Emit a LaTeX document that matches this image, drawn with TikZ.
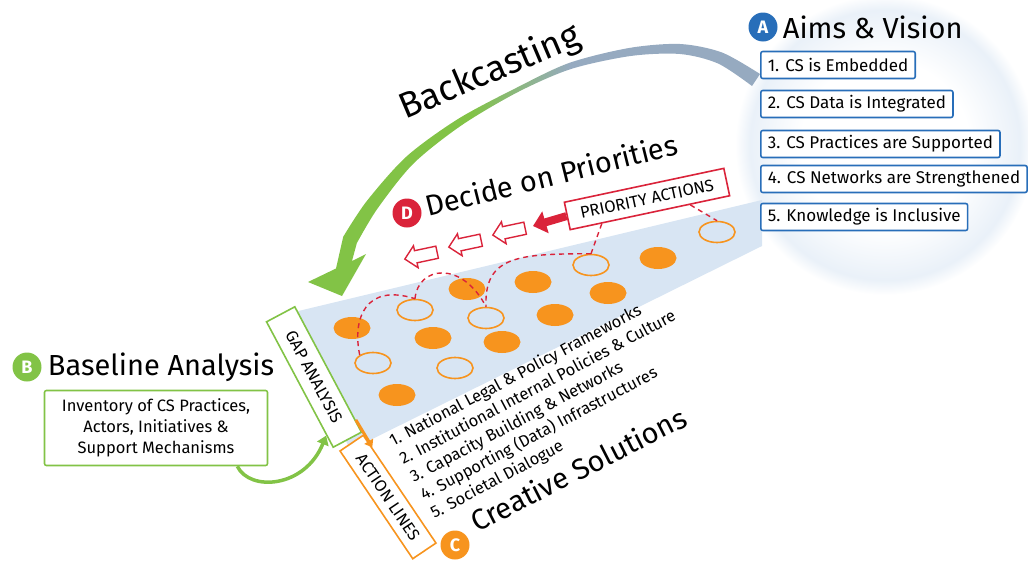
\documentclass[tikz,border=0pt]{standalone}
\usepackage{fontspec}
\setmainfont{Fira Sans}
\usetikzlibrary{positioning, arrows.meta, shapes.geometric, shapes.arrows, calc}

\definecolor{aimblue}{RGB}{40,110,185}
\definecolor{basegreen}{RGB}{130,195,70}
\definecolor{solorange}{RGB}{247,148,30}
\definecolor{prired}{RGB}{218,35,58}
\definecolor{bandblue}{RGB}{216,229,243}
\definecolor{castgray}{RGB}{150,170,192}

% soft disc behind the aims, and the colour run of the backcasting arrow
\pgfdeclareradialshading{visionglow}{\pgfpoint{0bp}{0bp}}{color(0bp)=(white); color(14bp)=(white); color(22.5bp)=(bandblue!55); color(25bp)=(white); color(50bp)=(white)}
\pgfdeclarehorizontalshading{castfade}{100bp}{color(0bp)=(basegreen); color(43bp)=(basegreen); color(54bp)=(castgray); color(100bp)=(castgray)}

\tikzset{
  badge/.style={circle, minimum size=29pt, inner sep=0pt, text=white,
    font=\fontsize{18}{18}\selectfont\bfseries}, % lettered circles A to D
  headline/.style={inner sep=0pt, anchor=base west,
    font=\fontsize{29}{29}\selectfont}, % big step titles
  aimbox/.style={draw=aimblue, line width=1.6pt, fill=white, rounded corners=2pt,
    anchor=west, minimum height=27pt, inner xsep=7pt,
    font=\fontsize{17}{17}\selectfont}, % one aim per box
  tagbox/.style={fill=white, line width=1.6pt, inner sep=0pt,
    font=\fontsize{16.5}{16.5}\selectfont}, % the upright capital labels
  actline/.style={rotate=28, anchor=base west, inner sep=0pt,
    font=\fontsize{16.5}{16.5}\selectfont}, % the five action lines
  fullspot/.style={ellipse, fill=solorange, minimum width=37pt, minimum height=22pt},
  openspot/.style={ellipse, draw=solorange, line width=1.6pt, minimum width=36pt, minimum height=21pt},
  pick/.style={draw=prired, line width=1.4pt, dash pattern=on 5pt off 4pt}, % red dashed links
  stepback/.style={single arrow, draw=prired, line width=1.4pt, fill=white, inner xsep=0pt,
    inner ysep=5.5pt, minimum height=33pt, single arrow head extend=5pt, rotate=192},
}

\begin{document}
\begin{tikzpicture}[x=1pt, y=-1pt]
\useasboundingbox (0,0) rectangle (1028,565);
\clip (0,0) rectangle (1028,565);

% vision disc and the band of options
\shade[shading=visionglow] (885,145) circle (150);
\fill[bandblue] (290,313) -- (762,200) -- (762,246) -- (350,450) -- cycle;

% backcasting arrow
\shade[shading=castfade]
  plot[smooth] coordinates {(760,74) (722,52.5) (680,44) (629,48) (569,63) (516,88) (458,119) (406.6,156.4) (366.6,201.3) (343.2,236.8)}
  -- (336,268.5) -- (308,282) -- (342,296) -- (366,254) -- (352,261)
  -- plot[smooth] coordinates {(356.8,243.2) (377.4,208.7) (413.4,163.6) (462,125) (518,92) (571,69) (630.6,56) (680,54) (718,63.5) (752,86)}
  -- cycle;
\node[headline, rotate=23, font=\fontsize{36}{36}\selectfont] (castT) at (405,120) {Backcasting};

% options
\foreach \x/\y [count=\n] in {352/328, 467/289, 533/282, 658/258, 433/338, 555/315, 608/293, 502/342, 397/395}
  \node[fullspot] (full\n) at (\x,\y) {};
\foreach \x/\y [count=\n] in {415/310, 591/265, 717/232, 373/363, 486/318, 455/368}
  \node[openspot] (open\n) at (\x,\y) {};

% D: priorities
\node[tagbox, draw=prired, rotate=12, minimum width=163pt, minimum height=28pt] (prio) at (647,199) {PRIORITY ACTIONS};
\draw[pick] ($(prio.south west)!0.2!(prio.south east)$) -- (open2.north);
\draw[pick] ($(prio.south west)!0.75!(prio.south east)$) -- (open3.north);
\draw[pick] (open2.north) .. controls (520,254) and (484,255) .. (open5.north);
\draw[pick] (open1.north) .. controls (418,266) and (462,260) .. (open5.north);
\draw[pick] (open4.north west) .. controls (352,318) and (366,283) .. (open1.north);
\coordinate (priotip) at (533,226);
\draw[prired, line width=8pt, -{Triangle[length=13pt,width=22pt]}] (prio.west) -- (priotip);
\foreach \x/\y [count=\n] in {512/231, 468/243, 424/255}
  \node[stepback] (back\n) at (\x,\y) {};
\node[badge, fill=prired] (priD) at (407,213) {D};
\node[headline, rotate=14] (priT) at (428,217) {Decide on Priorities};

% A: aims and vision
\node[badge, fill=aimblue] (aimA) at (763,27) {A};
\node[headline, anchor=west, right=5pt of aimA] (aimT) {Aims \& Vision};
\foreach \y/\txt [count=\n] in {65/CS is Embedded, 104/CS Data is Integrated, 144/CS Practices are Supported, 179/CS Networks are Strengthened, 217/Knowledge is Inclusive}
  \node[aimbox] (aim\n) at (760,\y) {\n. \txt};

% B: baseline
\node[badge, fill=basegreen] (baseB) at (27,367) {B};
\node[headline, anchor=west, right=6pt of baseB] (baseT) {Baseline Analysis};
\node[draw=basegreen, line width=1.6pt, fill=white, rounded corners=2pt, minimum width=223pt,
  minimum height=75pt, align=center, font=\fontsize{16.5}{21}\selectfont] (inv) at (156,428)
  {Inventory of CS Practices,\\ Actors, Initiatives \&\\ Support Mechanisms};
\node[tagbox, draw=basegreen, rotate=-62, minimum width=142pt, minimum height=32pt] (gap) at (314,377) {GAP ANALYSIS};
\draw[basegreen, line width=3.5pt, -{Triangle[length=9pt,width=12pt]}]
  ($(inv.south east)+(-31,0)$) .. controls (250,492) and (305,488) .. ($(gap.south east)!0.1!(gap.south west)$);

% C: creative solutions
\node[tagbox, draw=solorange, rotate=-56, minimum width=130pt, minimum height=28pt] (act) at (388,497) {ACTION LINES};
\draw[solorange, line width=3pt, -{Triangle[length=7pt,width=10pt]}]
  ($(gap.north east)!0.1!(gap.north west)$) -- ($(act.north west)!0.12!(act.north east)$);
\foreach \txt [count=\n] in {National Legal \& Policy Frameworks, Institutional Internal Policies \& Culture, Capacity Building \& Networks, Supporting (Data) Infrastructures, Societal Dialogue}
  \node[actline] (line\n) at ({393+10.3*(\n-1)},{447+18*(\n-1)}) {\n. \txt};
\node[badge, fill=solorange] (solC) at (455,545) {C};
\node[headline, rotate=27] (solT) at (477,533) {Creative Solutions};
\end{tikzpicture}
\end{document}
